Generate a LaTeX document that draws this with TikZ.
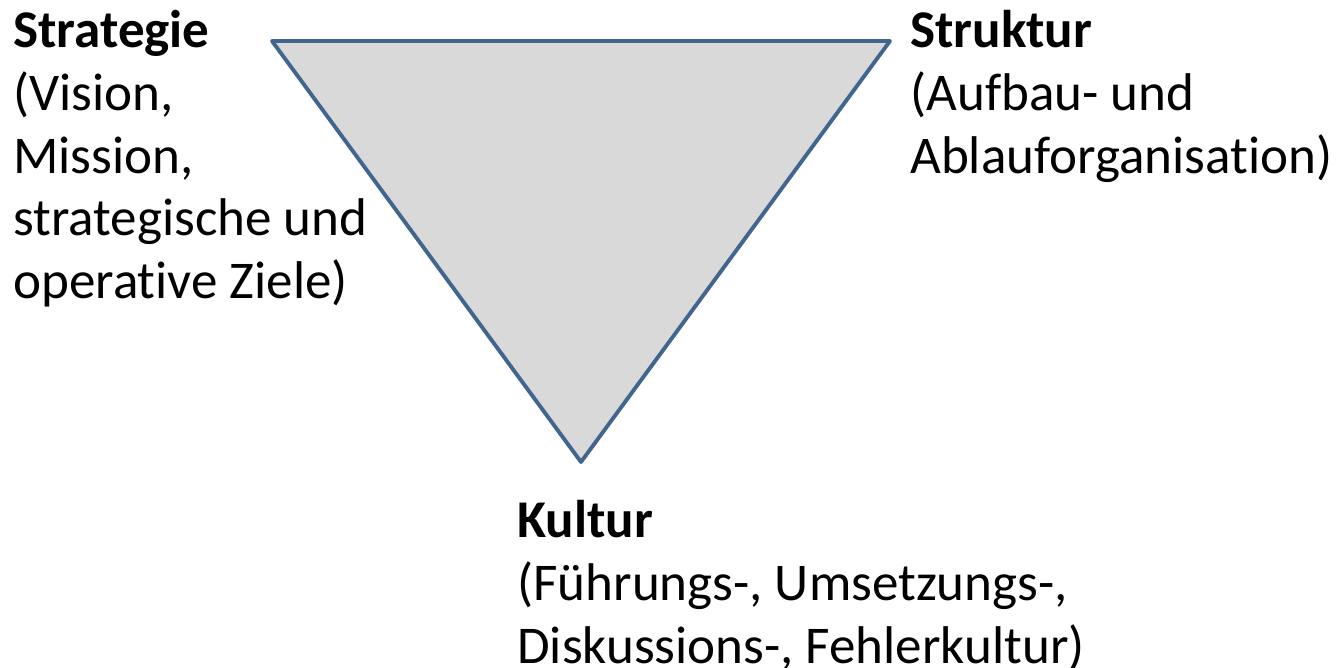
\documentclass[tikz,border=0pt]{standalone}
\usepackage{fontspec}
\setmainfont{Carlito}[Ligatures=NoCommon]
\usepackage{tikz}

\definecolor{edgeblue}{HTML}{41658F}
\definecolor{facegray}{HTML}{D9D9D9}

\begin{document}
\begin{tikzpicture}[x=0.02cm,y=-0.02cm,
% common options for the text blocks:
textblock/.style = {anchor=north west, align=left, inner sep=0,
            font=\fontsize{30.2}{35.7}\selectfont},
% common options for the triangle:
tri/.style = {draw=edgeblue, fill=facegray, line width=2.2pt, line join=round}]
\useasboundingbox (0,0) rectangle (1340,668);
\coordinate (TL) at (272,41);
\coordinate (TR) at (890,41);
\coordinate (BO) at (581,462);
\draw[tri] (TL) -- (TR) -- (BO) -- cycle;
\node[textblock] (strategie) at (13,10) {\textbf{Strategie}\\(Vision,\\Mission,\\strategische und\\operative Ziele)};
\node[textblock] (struktur) at (910,10) {\textbf{Struktur}\\(Aufbau- und\\Ablauforganisation)};
\node[textblock] (kultur) at (517,500) {\textbf{Kultur}\\(Führungs-, Umsetzungs-,\\Diskussions-, Fehlerkultur)};
\end{tikzpicture}
\end{document}
